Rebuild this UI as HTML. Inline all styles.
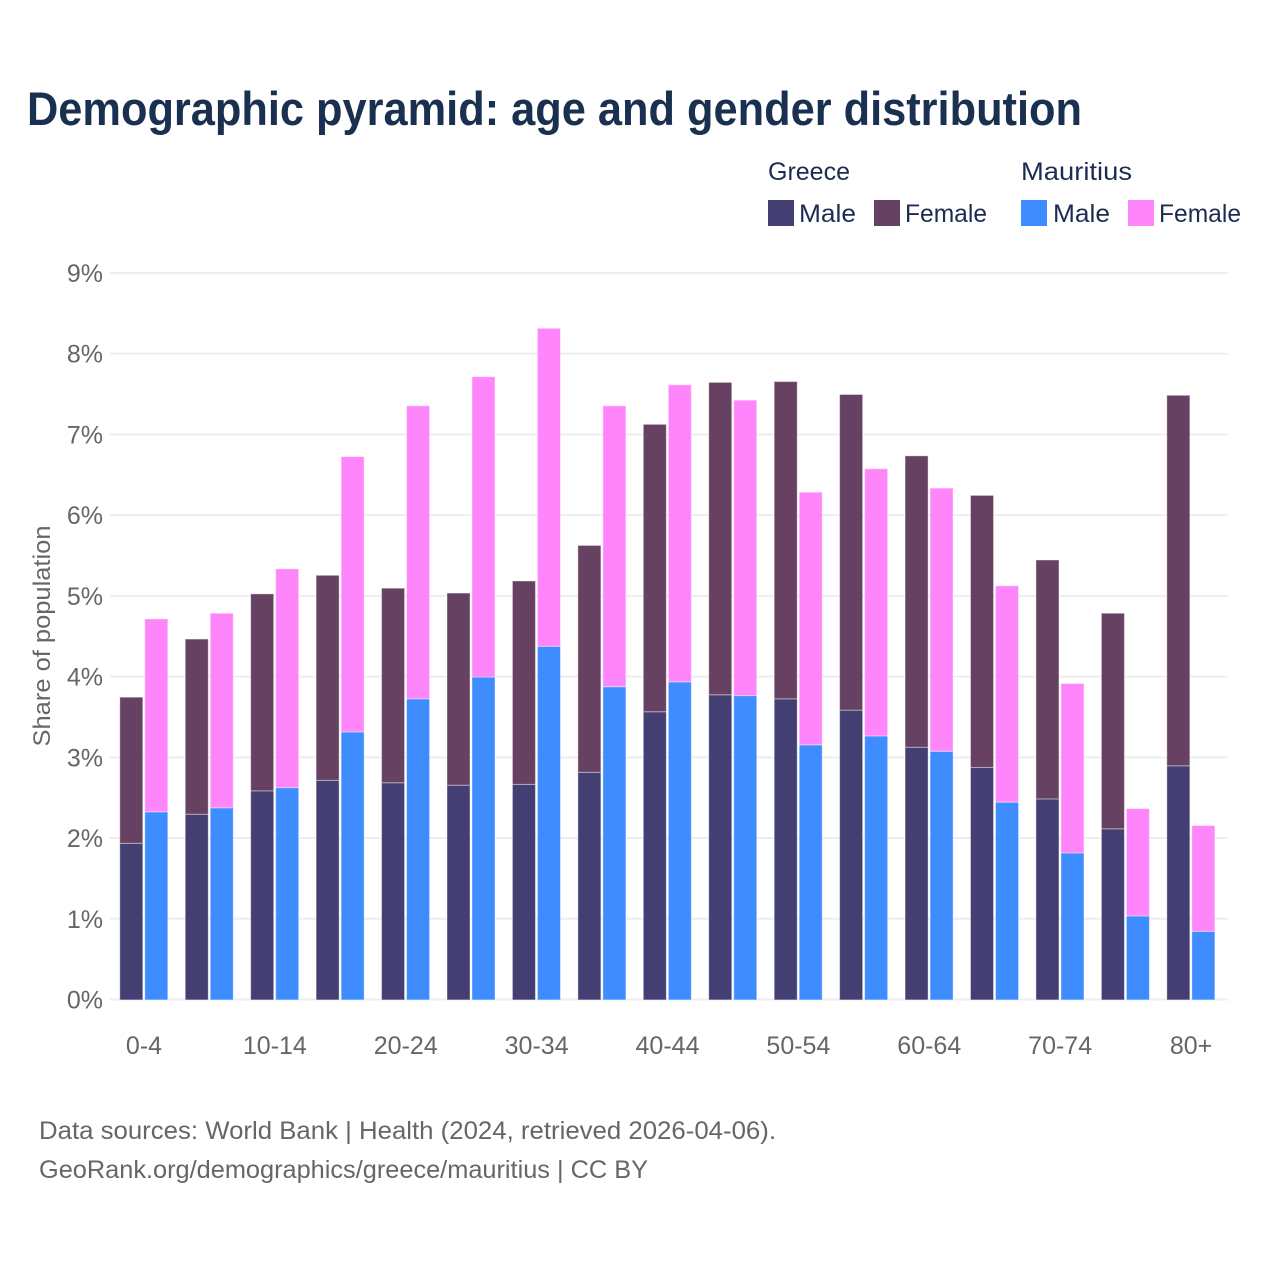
<!DOCTYPE html>
<html lang="en">
<head>
<meta charset="utf-8">
<title>Demographic pyramid: age and gender distribution</title>
<style>
html,body{margin:0;padding:0;background:#fff;}
svg{display:block;font-family:"Liberation Sans",sans-serif;}
</style>
</head>
<body>
<svg id="chart" xmlns="http://www.w3.org/2000/svg" width="1280" height="1280" viewBox="0 0 1280 1280">
  <rect x="0" y="0" width="1280" height="1280" fill="#ffffff"/>
  <text x="27" y="125" font-size="47" font-weight="700" fill="#1a3050" textLength="1055" lengthAdjust="spacingAndGlyphs">Demographic pyramid: age and gender distribution</text>

  <g id="grid"></g>
  <g id="y-ticks"></g>
  <g id="bars"></g>
  <g id="x-ticks"></g>

  <text transform="translate(50,636) rotate(-90)" text-anchor="middle" font-size="24" fill="#666666" textLength="221" lengthAdjust="spacingAndGlyphs">Share of population</text>

  <g font-size="25" fill="#1d2b50">
    <text x="768" y="180" textLength="82" lengthAdjust="spacingAndGlyphs">Greece</text>
    <text x="1021" y="180" textLength="111" lengthAdjust="spacingAndGlyphs">Mauritius</text>
    <rect x="768" y="200" width="26" height="26" fill="#433f72"/>
    <text x="799" y="222" textLength="57" lengthAdjust="spacingAndGlyphs">Male</text>
    <rect x="874" y="200" width="26" height="26" fill="#664162"/>
    <text x="905" y="222" textLength="82" lengthAdjust="spacingAndGlyphs">Female</text>
    <rect x="1021" y="200" width="26" height="26" fill="#3f8cff"/>
    <text x="1053" y="222" textLength="57" lengthAdjust="spacingAndGlyphs">Male</text>
    <rect x="1128" y="200" width="26" height="26" fill="#ff85fa"/>
    <text x="1159" y="222" textLength="82" lengthAdjust="spacingAndGlyphs">Female</text>
  </g>

  <g font-size="25" fill="#666666">
    <text x="39" y="1139" textLength="737" lengthAdjust="spacingAndGlyphs">Data sources: World Bank | Health (2024, retrieved 2026-04-06).</text>
    <text x="39" y="1178" textLength="609" lengthAdjust="spacingAndGlyphs">GeoRank.org/demographics/greece/mauritius | CC BY</text>
  </g>
</svg>
<script>
const ageGroups = ["0-4","5-9","10-14","15-19","20-24","25-29","30-34","35-39","40-44","45-49","50-54","55-59","60-64","65-69","70-74","75-79","80+"];
const greeceMale = [1.94,2.30,2.59,2.72,2.69,2.66,2.67,2.82,3.57,3.78,3.73,3.59,3.13,2.88,2.49,2.12,2.90];
const greeceFemale = [1.81,2.17,2.44,2.54,2.41,2.38,2.52,2.81,3.56,3.87,3.93,3.91,3.61,3.37,2.96,2.67,4.59];
const mauritiusMale = [2.33,2.38,2.63,3.32,3.73,4.00,4.38,3.88,3.94,3.77,3.16,3.27,3.08,2.45,1.82,1.04,0.85];
const mauritiusFemale = [2.39,2.41,2.71,3.41,3.63,3.72,3.94,3.48,3.68,3.66,3.13,3.31,3.26,2.68,2.10,1.33,1.31];
const yTickValues = [0,1,2,3,4,5,6,7,8,9];
const xTickEvery = 2;

const NS = "http://www.w3.org/2000/svg";
const yScale = function (v) { return 999.5 - 80.72 * v; };
const xScale = function (i) { return 144 + 65.44 * i; };

function make(tag, attrs, parent) {
  const el = document.createElementNS(NS, tag);
  for (const k in attrs) el.setAttribute(k, attrs[k]);
  parent.appendChild(el);
  return el;
}

const gridG = document.getElementById("grid");
const yTickG = document.getElementById("y-ticks");
yTickValues.forEach(function (t) {
  const line = make("line", {x1: 110, x2: 1228, y1: yScale(t), y2: yScale(t), stroke: "#eeeef2", "stroke-width": 2}, gridG);
  
  
  const label = make("text", {x: 103, y: yScale(t) + 9, "text-anchor": "end", "font-size": 25, fill: "#666666"}, yTickG);
  label.textContent = t + "%";
  
  
});

const barsG = document.getElementById("bars");
function drawBar(left, base, value, color) {
  const top = base + value;
  const rect = make("rect", {x: left, y: yScale(top) + 0.4, width: 23, height: yScale(base) - yScale(top), fill: color, stroke: "#ffffff", "stroke-opacity": 0.4, "stroke-width": 1}, barsG);
  
  
}
ageGroups.forEach(function (age, i) {
  const c = xScale(i);
  drawBar(c - 24.2, 0, greeceMale[i], "#433f72");
  drawBar(c - 24.2, greeceMale[i], greeceFemale[i], "#664162");
  drawBar(c + 0.8, 0, mauritiusMale[i], "#3f8cff");
  drawBar(c + 0.8, mauritiusMale[i], mauritiusFemale[i], "#ff85fa");
});

const xTickG = document.getElementById("x-ticks");
ageGroups.forEach(function (age, i) {
  if (i % xTickEvery !== 0) return;
  const label = make("text", {x: xScale(i), y: 1054, "text-anchor": "middle", "font-size": 25, fill: "#666666"}, xTickG);
  label.textContent = age;
  
  
});
</script>
</body>
</html>
